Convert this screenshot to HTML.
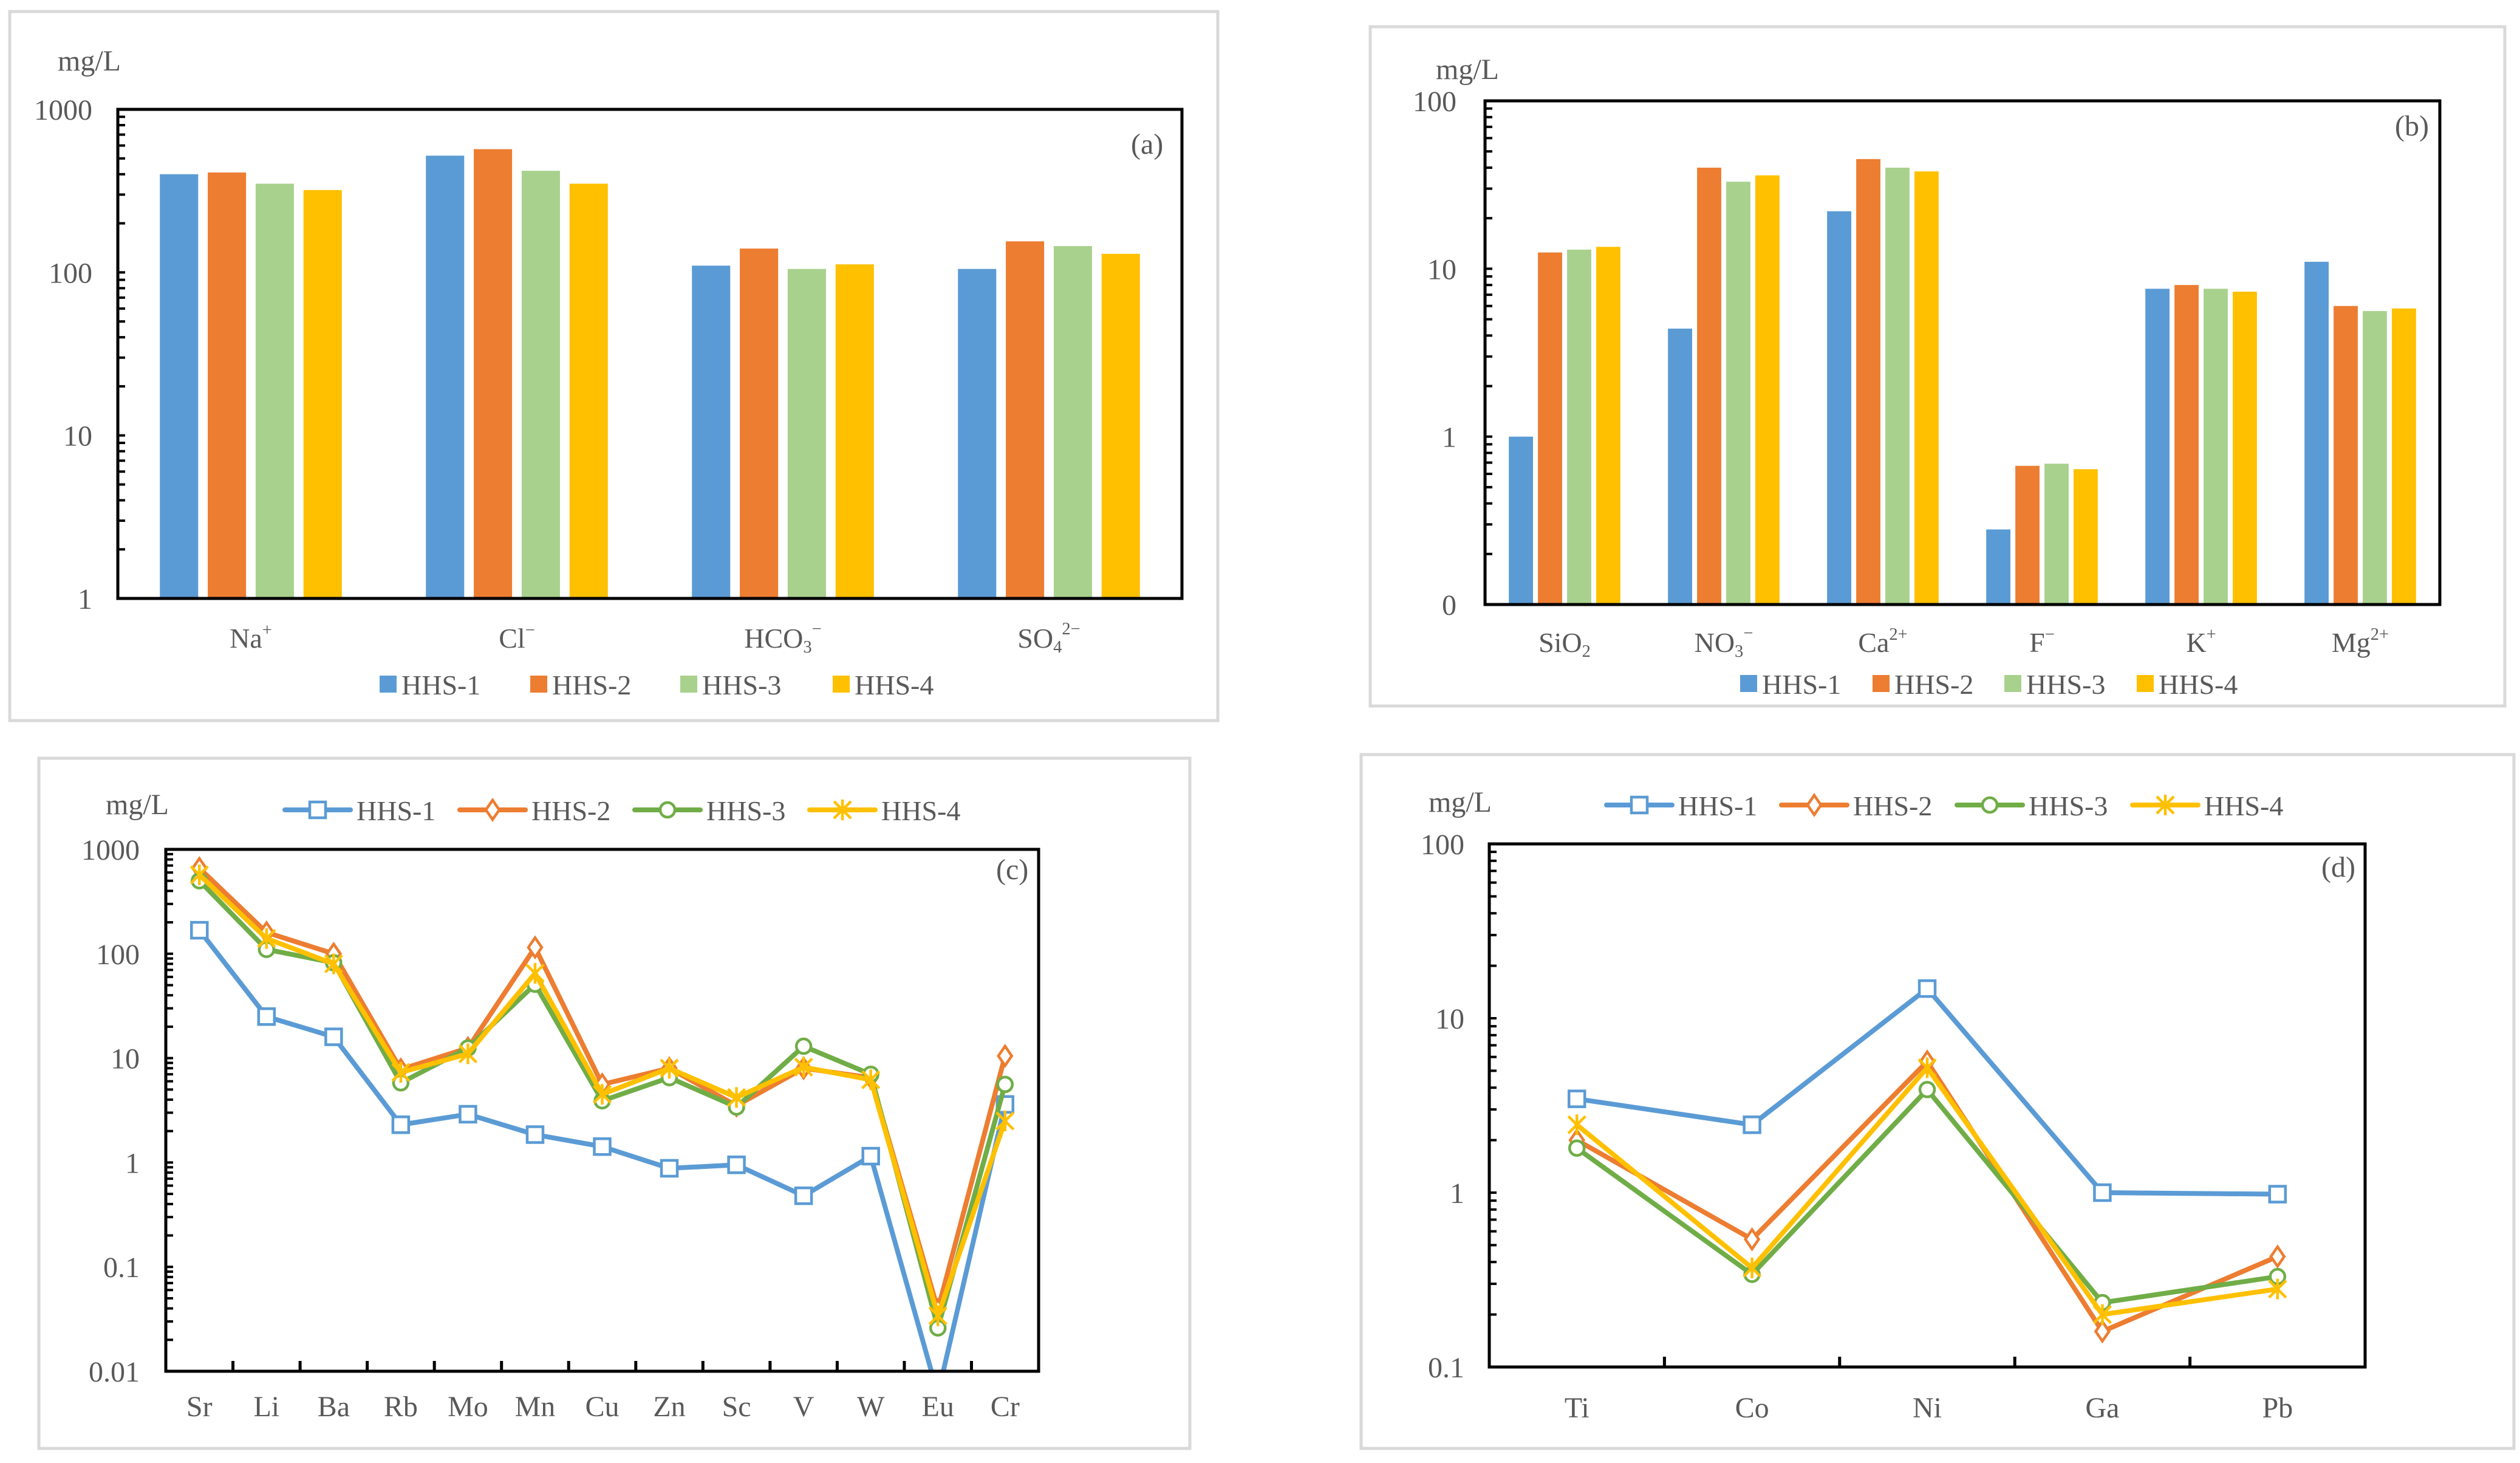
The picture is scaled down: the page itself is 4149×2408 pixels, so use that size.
<!DOCTYPE html>
<html><head><meta charset="utf-8"><title>Water chemistry charts</title>
<style>
html,body{margin:0;padding:0;background:#fff;}
svg{display:block;font-family:"Liberation Serif","DejaVu Serif",serif;}
text{fill:#595959;}
</style></head>
<body>
<svg id="root" width="4149" height="2408" viewBox="0 0 4149 2408" xmlns="http://www.w3.org/2000/svg"></svg>
<script>
// ---------- DATA ----------
const seriesNames = ["HHS-1","HHS-2","HHS-3","HHS-4"];
// Panel (a)
const catsA = [["Na","","+"],["Cl","","−"],["HCO","3","−"],["SO","4","2−"]];
const a1 = [400,520,110,105];
const a2 = [410,570,140,155];
const a3 = [350,420,105,145];
const a4 = [320,350,112,130];
const ticksA = ["1","10","100","1000"];
// Panel (b)
const catsB = [["SiO","2",""],["NO","3","−"],["Ca","","2+"],["F","","−"],["K","","+"],["Mg","","2+"]];
const b1 = [1.0,4.4,22,0.28,7.6,11];
const b2 = [12.5,40,45,0.67,8.0,6.0];
const b3 = [13,33,40,0.69,7.6,5.6];
const b4 = [13.5,36,38,0.64,7.3,5.8];
const ticksB = ["0","1","10","100"];
// Panel (c)
const catsC = ["Sr","Li","Ba","Rb","Mo","Mn","Cu","Zn","Sc","V","W","Eu","Cr"];
const c1 = [168,25,16,2.3,2.9,1.85,1.42,0.88,0.95,0.48,1.15,0.006,3.6];
const c2 = [660,160,100,7.8,12.5,115,5.6,8.0,3.5,8.0,6.5,0.039,10.5];
const c3 = [500,110,82,5.8,12.5,51,3.9,6.5,3.4,13,7.0,0.026,5.6];
const c4 = [570,140,80,7.3,11,65,4.5,8.0,4.2,8.2,6.2,0.034,2.5];
const ticksC = ["0.01","0.1","1","10","100","1000"];
// Panel (d)
const catsD = ["Ti","Co","Ni","Ga","Pb"];
const d1 = [3.45,2.45,14.8,1.0,0.98];
const d2 = [2.0,0.54,5.65,0.16,0.43];
const d3 = [1.8,0.34,3.9,0.234,0.33];
const d4 = [2.45,0.37,5.2,0.2,0.28];
const ticksD = ["0.1","1","10","100"];

const colors = ["#5b9bd5","#ed7d31","#a9d18e","#ffc000"];
const lineColors = ["#5b9bd5","#ed7d31","#70ad47","#ffc000"];
const NS = "http://www.w3.org/2000/svg";
const root = document.getElementById("root");

function mk(tag, attrs, parent){
  const e = document.createElementNS(NS, tag);
  for (const k in attrs) e.setAttribute(k, attrs[k]);
  (parent||root).appendChild(e);
  return e;
}
function logScale(minExp, maxExp, top, bottom){
  return v => bottom - (Math.log10(v) - minExp) / (maxExp - minExp) * (bottom - top);
}
function catLabel(parent, parts, x, y, size){
  const t = mk("text",{x:x,y:y,"font-size":size,"text-anchor":"middle"},parent);
  t.appendChild(document.createTextNode(parts[0]));
  if (parts[1]) { const s = mk("tspan",{"font-size":size*0.62,dy:8},t); s.textContent = parts[1]; }
  if (parts[2]) { const s = mk("tspan",{"font-size":size*0.62,dy: parts[1]? -30 : -20},t); s.textContent = parts[2]; }
  return t;
}
function frame(x1,y1,x2,y2,name){
  const r = mk("rect",{x:x1,y:y1,width:x2-x1,height:y2-y1,fill:"#fff",stroke:"#d9d9d9","stroke-width":5});
  
  
}
function axes(g, L, T, R, B, minExp, maxExp, ticks, labelRight, nCats, catTicks){
  const y = logScale(minExp, maxExp, T, B);
  // minor/major ticks on y
  for (let e = minExp; e < maxExp; e++){
    for (let m = 1; m <= 9; m++){
      const v = m * Math.pow(10, e);
      const yy = y(v);
      mk("line",{x1:L,x2:L+12,y1:yy,y2:yy,stroke:"#000","stroke-width":4},g);
    }
  }
  ticks.forEach((lab,i)=>{
    const t = mk("text",{x:labelRight,y:y(Math.pow(10,minExp+i))+17,"font-size":48,"text-anchor":"end"},g);
    t.textContent = lab;
    
    
  });
  if (catTicks){
    const w = (R-L)/nCats;
    for (let i=1;i<nCats;i++){
      const xx = L + i*w;
      mk("line",{x1:xx,x2:xx,y1:B,y2:B-17,stroke:"#000","stroke-width":5},g);
    }
  }
  const box = mk("rect",{x:L,y:T,width:R-L,height:B-T,fill:"none",stroke:"#000","stroke-width":5},g);
  
  
  return y;
}
function txt(g, s, x, y, size, anchor, name){
  const t = mk("text",{x:x,y:y,"font-size":size,"text-anchor":anchor||"start"},g);
  t.textContent = s;
  
  
  return t;
}

// ---------- BAR CHART ----------
function barChart(cfg){
  frame(cfg.fx1,cfg.fy1,cfg.fx2,cfg.fy2,cfg.name+"-frame");
  const g = mk("g",{});
  
  
  const {L,T,R,B} = cfg;
  const gw = (R-L)/cfg.cats.length;
  const y = logScale(cfg.minExp, cfg.maxExp, T, B);
  const bw = gw*cfg.bwf, step = gw*cfg.stepf;
  cfg.series.forEach((vals,si)=>{
    vals.forEach((v,ci)=>{
      const cx = L + gw*(ci+0.5);
      const x = cx - 1.5*step - bw/2 + si*step;
      const yy = y(v);
      const r = mk("rect",{x:x,y:yy,width:bw,height:B-yy,fill:colors[si]},g);
      
      
    });
  });
  axes(g,L,T,R,B,cfg.minExp,cfg.maxExp,cfg.ticks,cfg.labelRight,cfg.cats.length,false);
  cfg.cats.forEach((c,ci)=>{
    const t = catLabel(g,c,L+gw*(ci+0.5),cfg.catY,46);
    
    
  });
  txt(g,"mg/L",cfg.unitX,cfg.unitY,48,"start","y-axis-unit");
  txt(g,cfg.tag,cfg.tagX,cfg.tagY,48,"start","panel-label");
  cfg.legX.forEach((lx,i)=>{
    const lg = mk("g",{},g);
    
    
    mk("rect",{x:lx,y:cfg.legY-15,width:28,height:28,fill:colors[i]},lg);
    const t = mk("text",{x:lx+36,y:cfg.legY+16,"font-size":46},lg);
    t.textContent = seriesNames[i];
  });
}

// ---------- LINE CHART ----------
function marker(g, k, x, y, col){
  const sw = 4.5;
  if (k===0) mk("rect",{x:x-13,y:y-13,width:26,height:26,fill:"#fff",stroke:col,"stroke-width":sw},g);
  else if (k===1) mk("polygon",{points:`${x},${y-16} ${x+11},${y} ${x},${y+16} ${x-11},${y}`,fill:"#fff",stroke:col,"stroke-width":sw},g);
  else if (k===2) mk("circle",{cx:x,cy:y,r:12,fill:"#fff",stroke:col,"stroke-width":sw},g);
  else {
    mk("path",{d:`M${x-14},${y-14}L${x+14},${y+14}M${x+14},${y-14}L${x-14},${y+14}M${x},${y-17}L${x},${y+17}`,stroke:col,"stroke-width":sw,fill:"none"},g);
  }
}
function lineChart(cfg){
  frame(cfg.fx1,cfg.fy1,cfg.fx2,cfg.fy2,cfg.name+"-frame");
  const g = mk("g",{});
  
  
  const {L,T,R,B} = cfg;
  const cw = (R-L)/cfg.cats.length;
  const y = logScale(cfg.minExp, cfg.maxExp, T, B);
  const clipId = cfg.name+"-clip";
  const cp = mk("clipPath",{id:clipId},g);
  mk("rect",{x:L,y:T,width:R-L,height:B-T},cp);
  const pg = mk("g",{"clip-path":`url(#${clipId})`},g);
  cfg.series.forEach((vals,si)=>{
    const pts = vals.map((v,i)=>`${L+cw*(i+0.5)},${y(v)}`).join(" ");
    const pl = mk("polyline",{points:pts,fill:"none",stroke:lineColors[si],"stroke-width":8,"stroke-linejoin":"round","stroke-linecap":"round"},pg);
    
    
    vals.forEach((v,i)=>{
      const mg = mk("g",{},pg);
      
      
      marker(mg, si, L+cw*(i+0.5), y(v), lineColors[si]);
    });
  });
  axes(g,L,T,R,B,cfg.minExp,cfg.maxExp,cfg.ticks,cfg.labelRight,cfg.cats.length,true);
  cfg.cats.forEach((c,ci)=>{
    txt(g,c,L+cw*(ci+0.5),cfg.catY,48,"middle","x-category-label");
  });
  txt(g,"mg/L",cfg.unitX,cfg.unitY,48,"start","y-axis-unit");
  txt(g,cfg.tag,cfg.tagX,cfg.tagY,48,"start","panel-label");
  cfg.legX.forEach((lx,i)=>{
    const lg = mk("g",{},g);
    
    
    mk("line",{x1:lx,x2:lx+108,y1:cfg.legY,y2:cfg.legY,stroke:lineColors[i],"stroke-width":8,"stroke-linecap":"round"},lg);
    marker(lg,i,lx+54,cfg.legY,lineColors[i]);
    const t = mk("text",{x:lx+118,y:cfg.legY+17,"font-size":46},lg);
    t.textContent = seriesNames[i];
  });
}

barChart({name:"chart-a",fx1:16,fy1:19,fx2:2005,fy2:1186,L:194,T:180,R:1946,B:985,
  minExp:0,maxExp:3,ticks:ticksA,labelRight:152,cats:catsA,series:[a1,a2,a3,a4],
  bwf:0.144,stepf:0.18,catY:1066,unitX:95,unitY:116,tag:"(a)",tagX:1862,tagY:253,
  legX:[625,873,1120,1371],legY:1127});
barChart({name:"chart-b",fx1:2256,fy1:44,fx2:4124,fy2:1162,L:2445,T:166,R:4017,B:995,
  minExp:-1,maxExp:2,ticks:ticksB,labelRight:2398,cats:catsB,series:[b1,b2,b3,b4],
  bwf:0.152,stepf:0.183,catY:1073,unitX:2364,unitY:130,tag:"(b)",tagX:3943,tagY:223,
  legX:[2865,3083,3300,3518],legY:1126});
lineChart({name:"chart-c",fx1:64,fy1:1248,fx2:1959,fy2:2384,L:273,T:1398,R:1710,B:2257,
  minExp:-2,maxExp:3,ticks:ticksC,labelRight:230,cats:catsC,series:[c1,c2,c3,c4],
  catY:2331,unitX:174,unitY:1340,tag:"(c)",tagX:1640,tagY:1447,
  legX:[469,757,1045,1333],legY:1333});
lineChart({name:"chart-d",fx1:2241,fy1:1242,fx2:4139,fy2:2384,L:2452,T:1389,R:3894,B:2250,
  minExp:-1,maxExp:2,ticks:ticksD,labelRight:2411,cats:catsD,series:[d1,d2,d3,d4],
  catY:2333,unitX:2352,unitY:1336,tag:"(d)",tagX:3822,tagY:1443,
  legX:[2645,2933,3222,3511],legY:1325});
</script>
</body></html>
